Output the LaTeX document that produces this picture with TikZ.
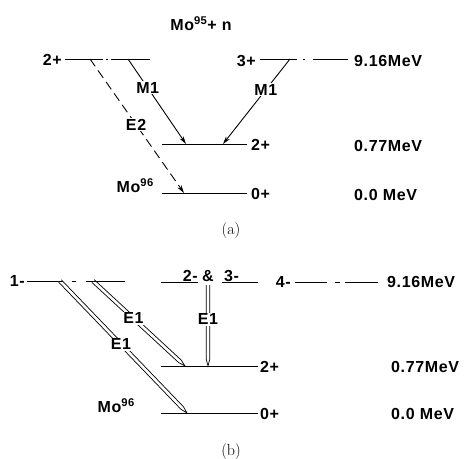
\documentclass[tikz,border=0pt]{standalone}
\usepackage{fontspec}
\newfontfamily\lettering[LetterSpace=4]{Liberation Sans}
\usetikzlibrary{arrows.meta,calc}

\tikzset{
  lvl/.style={line width=0.9pt},
  lbl/.style={font=\lettering\bfseries\fontsize{16}{18}\selectfont, inner sep=1pt},
  gam/.style={line width=0.9pt, -{Stealth[length=8pt,width=4.5pt]}},
  dblgam/.style={line width=0.7pt, line join=miter, to path={
      ($(\tikztostart)!1.8pt!90:(\tikztotarget)$)
      -- ($(\tikztotarget)!7pt!(\tikztostart)!1.8pt!90:(\tikztotarget)$)
      -- (\tikztotarget)
      -- ($(\tikztotarget)!7pt!(\tikztostart)!1.8pt!-90:(\tikztotarget)$)
      -- ($(\tikztostart)!1.8pt!-90:(\tikztotarget)$)}},
  sublbl/.style={font=\fontsize{16}{18}\selectfont}
}

\begin{document}
\begin{tikzpicture}[x=1pt,y=-1pt]
        \useasboundingbox (0,0) rectangle (465,458);
        % Panel (a): capture states of Mo95 + n
        \node[lbl] (aTitle) at (201,24) {Mo\textsuperscript{95}+ n};
        \node[lbl,anchor=east] (aJtwo) at (63,60) {2+};
        \draw[lvl,dash pattern=on 38pt off 3pt on 2pt off 3pt on 40pt] (65,59) -- (150,59);
        \node[lbl,anchor=east] (aJthree) at (257,61) {3+};
        \draw[lvl,dash pattern=on 37pt off 6pt on 2pt off 8pt on 40pt] (260,59) -- (348,59);
        \node[lbl,anchor=west] (aEtop) at (353,61) {9.16MeV};
        % Panel (a): low lying states of Mo96
        \draw[lvl] (162,144) -- (247,144);
        \node[lbl,anchor=west] (aJfirst) at (250,145) {2+};
        \node[lbl,anchor=west] (aEfirst) at (353,146) {0.77MeV};
        \draw[lvl] (162,193) -- (247,193);
        \node[lbl,anchor=west] (aJground) at (250,194) {0+};
        \node[lbl,anchor=west] (aEground) at (353,195) {0.0 MeV};
        \node[lbl,anchor=south east] (aMo) at (155,194) {Mo\textsuperscript{96}};
        % Panel (a): transitions
        \coordinate (aEtwoS) at (90,59);
        \coordinate (aEtwoE) at (184,193);
        \coordinate (aMleftS) at (128,59);
        \coordinate (aMleftE) at (186,144);
        \coordinate (aMrightS) at (290,59);
        \coordinate (aMrightE) at (223,144);
        \draw[gam,dash pattern=on 9pt off 5pt] (aEtwoS) -- node[lbl,fill=white,pos=0.49] (aEtwo) {E2} (aEtwoE);
        \draw[gam] (aMleftS) -- node[lbl,fill=white,pos=0.34] (aMleft) {M1} (aMleftE);
        \draw[gam] (aMrightS) -- node[lbl,fill=white,pos=0.36] (aMright) {M1} (aMrightE);
        \node[sublbl] (aCap) at (231,231) {(a)};
        % Panel (b): capture states of Mo95 + n
        \node[lbl,anchor=east] (bJone) at (26,281) {1-};
        \draw[lvl,dash pattern=on 36pt off 9pt on 4pt off 10pt on 40pt] (27,281) -- (125,281);
        \draw[lvl] (161,282) -- (198,282);
        \draw[lvl] (222,282) -- (258,282);
        \node[lbl,anchor=south east] (bJtwo) at (199,283) {2-};
        \node[lbl] (bAmp) at (208,276) {\&};
        \node[lbl,anchor=south west] (bJthree) at (223,283) {3-};
        \node[lbl,anchor=east] (bJfour) at (292,282) {4-};
        \draw[lvl,dash pattern=on 32pt off 8pt on 5pt off 5pt on 40pt] (295,282) -- (378,282);
        \node[lbl,anchor=west] (bEtop) at (386,282) {9.16MeV};
        % Panel (b): low lying states of Mo96
        \draw[lvl] (161,366) -- (258,366);
        \node[lbl,anchor=west] (bJfirst) at (259,367) {2+};
        \node[lbl,anchor=west] (bEfirst) at (390,367) {0.77MeV};
        \draw[lvl] (161,413) -- (258,413);
        \node[lbl,anchor=west] (bJground) at (259,414) {0+};
        \node[lbl,anchor=west] (bEground) at (390,414) {0.0 MeV};
        \node[lbl,anchor=south east] (bMo) at (136,414) {Mo\textsuperscript{96}};
        % Panel (b): E1 transitions
        \coordinate (bLongS) at (60,281);
        \coordinate (bLongE) at (187,413);
        \coordinate (bShortS) at (93,281);
        \coordinate (bShortE) at (185,366);
        \coordinate (bVertS) at (208,285);
        \coordinate (bVertE) at (208,366);
        \draw[dblgam] (bLongS) to (bLongE);
        \draw[dblgam] (bShortS) to (bShortE);
        \draw[dblgam] (bVertS) to (bVertE);
        \path (bLongS) -- node[lbl,fill=white,pos=0.48] (bLong) {E1} (bLongE);
        \path (bShortS) -- node[lbl,fill=white,pos=0.44] (bShort) {E1} (bShortE);
        \path (bVertS) -- node[lbl,fill=white,pos=0.42] (bVert) {E1} (bVertE);
        \node[sublbl] (bCap) at (231,451) {(b)};
    \end{tikzpicture}
\end{document}
